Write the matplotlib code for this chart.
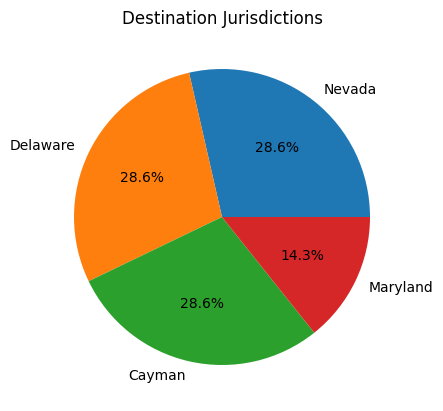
import matplotlib
matplotlib.use("Agg")
import matplotlib.pyplot as plt

# Pie data
labels = ["Nevada", "Delaware", "Cayman", "Maryland"]
counts = [2, 2, 2, 1]

fig = plt.figure(figsize=(4.43, 4.11), dpi=100)
ax = fig.add_axes([37 / 443, 9 / 411, 370 / 443, 370 / 411])
ax.pie(counts, labels=labels, autopct="%1.1f%%")
ax.set_title("Destination Jurisdictions")

fig.savefig("out.png", dpi=100)
